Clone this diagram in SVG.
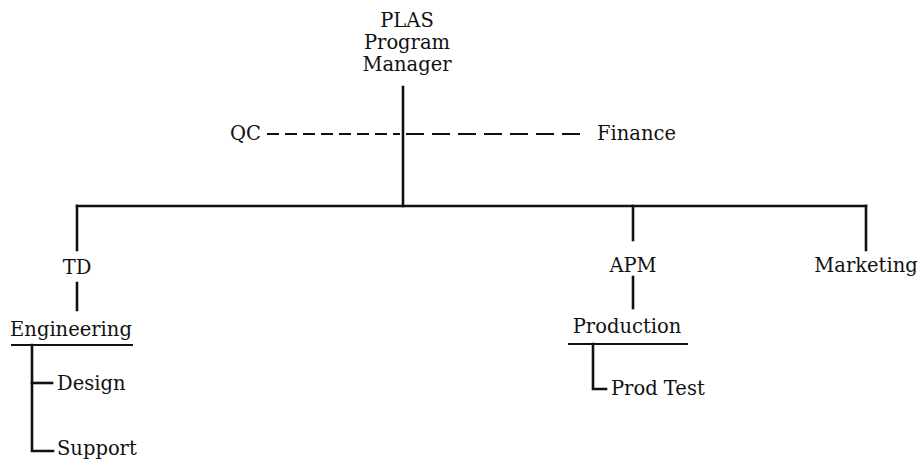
<svg xmlns="http://www.w3.org/2000/svg" width="923" height="460" viewBox="0 0 923 460">
<style>
text{font-family:"DejaVu Serif","Liberation Serif",serif;font-size:19.5px;fill:#111}
.m{text-anchor:middle}
.ln{stroke:#111;stroke-width:2.6;fill:none;stroke-linecap:square}
.ul{stroke:#111;stroke-width:2;fill:none}
.ds{stroke:#111;stroke-width:2;fill:none}
</style>
<rect width="923" height="460" fill="#fff"/>
<g id="connectors">
<path class="ln" d="M403,87 V206"/>
<path class="ds" d="M267,134 H400" stroke-dasharray="12 6"/>
<path class="ds" d="M406,134 H582" stroke-dasharray="18 8"/>
<path class="ln" d="M77,206 H866"/>
<path class="ln" d="M77,206 V250"/>
<path class="ln" d="M633,206 V240"/>
<path class="ln" d="M866,206 V250"/>
<path class="ln" d="M77,283 V310"/>
<path class="ln" d="M633,277 V308"/>
<path class="ln" d="M32,345 V451 H53"/>
<path class="ln" d="M32,383 H52"/>
<path class="ln" d="M593,344 V389 H606"/>
</g>
<g id="plas"><text class="m" x="407" y="27">PLAS</text><text class="m" x="407" y="49">Program</text><text class="m" x="407" y="71">Manager</text></g>
<g id="qc"><text x="230" y="140">QC</text></g>
<g id="finance"><text x="597" y="140">Finance</text></g>
<g id="td"><text class="m" x="77" y="274">TD</text></g>
<g id="engineering"><text class="m" x="71" y="336">Engineering</text><path class="ul" d="M11,345 H133"/></g>
<g id="design"><text x="57" y="390">Design</text></g>
<g id="support"><text x="57" y="455">Support</text></g>
<g id="apm"><text class="m" x="633" y="272">APM</text></g>
<g id="production"><text class="m" x="627" y="333">Production</text><path class="ul" d="M568,344 H688"/></g>
<g id="prodtest"><text x="611" y="395">Prod Test</text></g>
<g id="marketing"><text class="m" x="866" y="272">Marketing</text></g>
</svg>
